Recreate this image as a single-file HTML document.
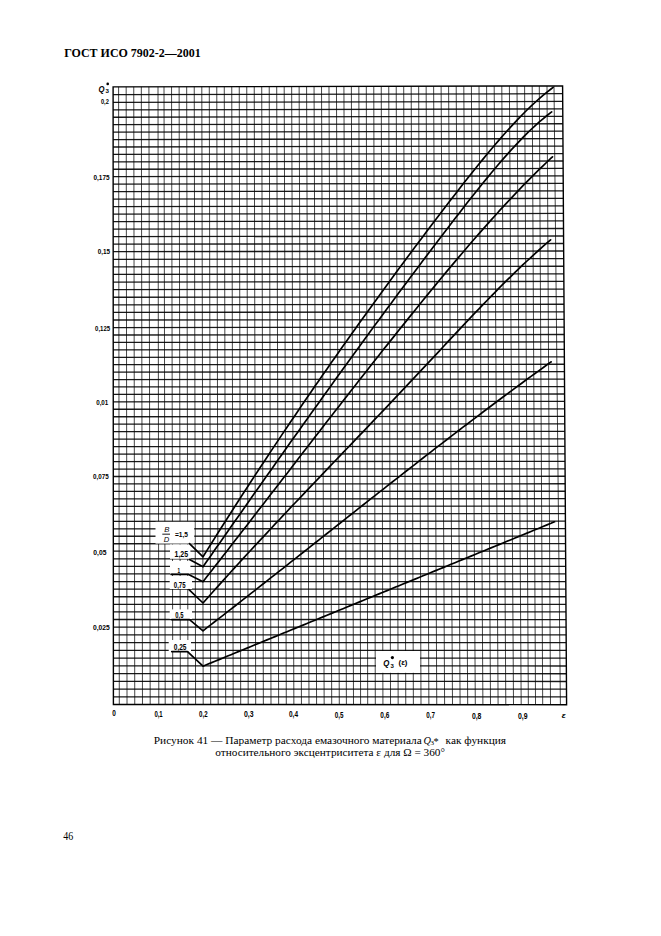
<!DOCTYPE html>
<html><head><meta charset="utf-8"><style>
html,body{margin:0;padding:0;background:#fff;width:661px;height:936px;overflow:hidden}
svg{position:absolute;left:0;top:0;display:block}
</style></head><body>
<svg width="661" height="936" viewBox="0 0 661 936">
<path d="M118.60 86.89L119.30 704.50M126.17 86.87L127.02 704.51M133.75 86.85L134.75 704.51M141.32 86.84L142.47 704.51M148.90 86.82L150.20 704.52M158.00 86.80L158.80 704.52M164.00 86.79L165.20 704.52M171.56 86.77L172.80 704.53M179.12 86.75L180.40 704.53M186.68 86.74L188.00 704.53M194.24 86.72L195.60 704.54M201.80 86.70L203.20 704.54M209.29 86.69L210.70 704.54M216.78 86.67L218.20 704.55M224.27 86.65L225.70 704.55M231.76 86.64L233.20 704.55M239.25 86.62L240.70 704.56M246.75 86.60L248.20 704.56M254.24 86.59L255.70 704.56M261.73 86.57L263.35 704.57M269.22 86.55L271.00 704.57M276.71 86.54L278.65 704.57M284.20 86.52L286.30 704.58M291.66 86.50L293.87 704.58M299.13 86.49L301.44 704.58M306.59 86.47L309.01 704.59M314.05 86.46L316.59 704.59M321.52 86.44L324.16 704.59M328.98 86.42L331.73 704.60M336.45 86.41L339.30 704.60M343.91 86.39L346.40 704.60M351.37 86.37L353.50 704.61M358.84 86.36L360.60 704.61M366.30 86.34L367.70 704.61M373.78 86.32L375.31 704.62M381.26 86.31L382.93 704.62M388.75 86.29L390.54 704.62M396.23 86.27L398.16 704.63M403.71 86.26L405.77 704.63M411.19 86.24L413.39 704.63M418.67 86.22L421.00 704.64M426.15 86.21L428.88 704.64M433.64 86.19L436.75 704.64M441.12 86.17L444.62 704.65M448.60 86.16L452.50 704.65M456.20 86.14L460.10 704.65M463.80 86.12L467.70 704.66M471.40 86.11L475.30 704.66M479.00 86.09L482.90 704.66M486.60 86.07L490.50 704.67M494.20 86.06L498.10 704.67M501.80 86.04L505.80 704.67M509.40 86.02L513.50 704.68M517.00 86.01L521.20 704.68M524.60 85.99L528.37 704.68M532.20 85.97L535.53 704.69M539.30 85.96L542.70 704.69M547.00 85.94L550.50 704.69M554.00 85.92L560.40 704.70" stroke="#000" stroke-width="1.0" fill="none" stroke-opacity="0.72"/>
<path d="M113.10 94.65L562.65 93.67M113.11 102.40L562.70 101.43M113.11 109.83L562.75 108.88M113.11 117.26L562.80 116.32M113.12 124.69L562.84 123.77M113.12 132.12L562.89 131.21M113.13 139.55L562.94 138.66M113.13 146.98L562.99 146.10M113.13 154.41L563.04 153.55M113.14 161.84L563.09 160.99M113.14 169.27L563.14 168.43M113.14 176.70L563.19 175.88M113.15 184.20L563.23 183.39M113.15 191.70L563.28 190.91M113.15 199.20L563.33 198.42M113.16 206.70L563.38 205.94M113.16 214.20L563.43 213.45M113.17 221.70L563.48 220.97M113.17 229.20L563.53 228.48M113.17 236.70L563.58 235.99M113.18 244.20L563.62 243.51M113.18 251.70L563.67 251.02M113.18 259.29L563.72 258.63M113.19 266.88L563.77 266.23M113.19 274.47L563.82 273.84M113.20 282.06L563.87 281.44M113.20 289.65L563.92 289.05M113.20 297.24L563.97 296.65M113.21 304.83L564.01 304.26M113.21 312.42L564.06 311.86M113.21 320.01L564.11 319.46M113.22 327.60L564.16 327.07M113.22 335.02L564.21 334.50M113.22 342.44L564.26 341.94M113.23 349.86L564.31 349.37M113.23 357.28L564.36 356.81M113.24 364.70L564.40 364.24M113.24 372.12L564.45 371.68M113.24 379.54L564.50 379.11M113.25 386.96L564.55 386.55M113.25 394.38L564.60 393.98M113.25 401.80L564.65 401.41M113.26 409.27L564.70 408.90M113.26 416.74L564.75 416.38M113.26 424.21L564.80 423.87M113.27 431.68L564.84 431.35M113.27 439.15L564.89 438.84M113.28 446.62L564.94 446.32M113.28 454.09L564.99 453.81M113.28 461.56L565.04 461.29M113.29 469.03L565.09 468.78M113.29 476.50L565.14 476.26M113.29 483.97L565.19 483.75M113.30 491.44L565.23 491.23M113.30 498.91L565.28 498.71M113.30 506.38L565.33 506.20M113.31 513.85L565.38 513.68M113.31 521.32L565.43 521.17M113.32 528.79L565.48 528.65M113.32 536.26L565.53 536.14M113.32 543.73L565.58 543.62M113.33 551.20L565.62 551.11M113.33 558.79L565.67 558.71M113.33 566.38L565.72 566.32M113.34 573.97L565.77 573.92M113.34 581.56L565.82 581.53M113.35 589.15L565.87 589.13M113.35 596.74L565.92 596.74M113.35 604.33L565.97 604.34M113.36 611.92L566.01 611.94M113.36 619.51L566.06 619.55M113.36 627.10L566.11 627.15M113.37 634.85L566.16 634.92M113.37 642.60L566.21 642.68M113.37 650.35L566.26 650.45M113.38 658.10L566.31 658.21M113.38 665.85L566.36 665.98M113.39 673.60L566.40 673.74M113.39 681.33L566.45 681.48M113.39 689.05L566.50 689.22M113.40 696.78L566.55 696.96" stroke="#000" stroke-width="1.3" fill="none" stroke-opacity="0.9"/>
<path d="M113.10 86.90L562.60 85.91L566.60 704.70L113.40 704.50Z" stroke="#000" stroke-width="1.4" fill="none"/>
<rect x="155.5" y="521.8" width="38.70" height="21.80" fill="#fff"/>
<rect x="170" y="544.5" width="20.40" height="14.30" fill="#fff"/>
<rect x="170" y="561" width="20.40" height="12.60" fill="#fff"/>
<rect x="169.7" y="576" width="22.30" height="13.00" fill="#fff"/>
<rect x="169.7" y="609.4" width="22.30" height="9.60" fill="#fff"/>
<rect x="168.7" y="640" width="22.30" height="11.00" fill="#fff"/>
<rect x="376" y="651" width="44.00" height="21.80" fill="#fff"/>
<path d="M189.5 543.6L203.0 556.8L207.0 550.4L211.0 544.0L215.0 537.6L219.0 531.3L223.0 525.0L227.0 518.7L231.0 512.5L235.0 506.2L239.0 500.0L243.0 493.8L247.0 487.7L251.0 481.5L255.0 475.4L259.0 469.3L263.0 463.2L267.0 457.2L271.0 451.1L275.0 445.1L279.0 439.1L283.0 433.1L287.0 427.2L291.0 421.3L295.0 415.4L299.0 409.5L303.0 403.6L307.0 397.8L311.0 391.9L315.0 386.1L319.0 380.4L323.0 374.6L327.0 368.9L331.0 363.1L335.0 357.4L339.0 351.7L343.0 346.1L347.0 340.4L351.0 334.8L355.0 329.2L359.0 323.6L363.0 318.0L367.0 312.4L371.0 306.9L375.0 301.4L379.0 295.9L383.0 290.4L387.0 284.9L391.0 279.5L395.0 274.0L399.0 268.6L403.0 263.2L407.0 257.8L411.0 252.4L415.0 247.1L419.0 241.8L423.0 236.4L427.0 231.1L431.0 225.8L435.0 220.6L439.0 215.3L443.0 210.0L447.0 204.8L451.0 199.6L455.0 194.4L459.0 189.2L463.0 184.1L467.0 179.0L471.0 174.0L475.0 169.0L479.0 164.0L483.0 159.1L487.0 154.2L491.0 149.5L495.0 144.8L499.0 140.1L503.0 135.5L507.0 131.0L511.0 126.6L515.0 122.3L519.0 118.1L523.0 114.0L527.0 110.0L531.0 106.2L535.0 102.5L539.0 98.9L543.0 95.4L547.0 92.1L551.0 89.0L553.1 87.4M189.5 559.5L203.0 566.8L207.0 561.1L211.0 555.4L215.0 549.6L219.0 543.9L223.0 538.2L227.0 532.5L231.0 526.8L235.0 521.1L239.0 515.4L243.0 509.7L247.0 504.0L251.0 498.3L255.0 492.6L259.0 486.9L263.0 481.2L267.0 475.6L271.0 469.9L275.0 464.2L279.0 458.6L283.0 452.9L287.0 447.3L291.0 441.6L295.0 436.0L299.0 430.4L303.0 424.8L307.0 419.2L311.0 413.6L315.0 408.0L319.0 402.4L323.0 396.8L327.0 391.2L331.0 385.7L335.0 380.1L339.0 374.6L343.0 369.0L347.0 363.5L351.0 358.0L355.0 352.5L359.0 347.0L363.0 341.5L367.0 336.0L371.0 330.6L375.0 325.1L379.0 319.7L383.0 314.2L387.0 308.8L391.0 303.4L395.0 298.0L399.0 292.6L403.0 287.2L407.0 281.9L411.0 276.5L415.0 271.2L419.0 265.9L423.0 260.6L427.0 255.3L431.0 250.0L435.0 244.7L439.0 239.5L443.0 234.2L447.0 229.0L451.0 223.8L455.0 218.6L459.0 213.4L463.0 208.2L467.0 203.1L471.0 198.0L475.0 193.0L479.0 188.0L483.0 183.0L487.0 178.1L491.0 173.2L495.0 168.5L499.0 163.8L503.0 159.1L507.0 154.6L511.0 150.1L515.0 145.8L519.0 141.6L523.0 137.4L527.0 133.4L531.0 129.5L535.0 125.8L539.0 122.2L543.0 118.8L547.0 115.5L551.0 112.4L551.7 111.9M171.3 574.4L188.6 574.4L203.0 581.7L207.0 576.6L211.0 571.5L215.0 566.3L219.0 561.2L223.0 556.1L227.0 550.9L231.0 545.8L235.0 540.6L239.0 535.5L243.0 530.3L247.0 525.2L251.0 520.0L255.0 514.8L259.0 509.6L263.0 504.5L267.0 499.3L271.0 494.1L275.0 488.9L279.0 483.7L283.0 478.6L287.0 473.4L291.0 468.2L295.0 463.0L299.0 457.8L303.0 452.6L307.0 447.5L311.0 442.3L315.0 437.1L319.0 432.0L323.0 426.8L327.0 421.6L331.0 416.5L335.0 411.3L339.0 406.2L343.0 401.1L347.0 395.9L351.0 390.8L355.0 385.7L359.0 380.6L363.0 375.5L367.0 370.4L371.0 365.3L375.0 360.2L379.0 355.2L383.0 350.1L387.0 345.1L391.0 340.1L395.0 335.1L399.0 330.0L403.0 325.1L407.0 320.1L411.0 315.1L415.0 310.2L419.0 305.2L423.0 300.3L427.0 295.4L431.0 290.5L435.0 285.6L439.0 280.8L443.0 276.0L447.0 271.1L451.0 266.4L455.0 261.6L459.0 256.9L463.0 252.2L467.0 247.5L471.0 242.8L475.0 238.2L479.0 233.6L483.0 229.1L487.0 224.6L491.0 220.1L495.0 215.7L499.0 211.2L503.0 206.9L507.0 202.6L511.0 198.3L515.0 194.1L519.0 189.9L523.0 185.7L527.0 181.7L531.0 177.6L535.0 173.6L539.0 169.7L543.0 165.8L547.0 162.0L551.0 158.2L552.5 156.8M189.0 589.6L203.0 603.0L207.0 598.5L211.0 594.0L215.0 589.5L219.0 585.1L223.0 580.6L227.0 576.2L231.0 571.8L235.0 567.4L239.0 563.0L243.0 558.7L247.0 554.3L251.0 550.0L255.0 545.7L259.0 541.4L263.0 537.1L267.0 532.8L271.0 528.5L275.0 524.2L279.0 520.0L283.0 515.7L287.0 511.5L291.0 507.2L295.0 503.0L299.0 498.8L303.0 494.6L307.0 490.4L311.0 486.2L315.0 482.0L319.0 477.8L323.0 473.6L327.0 469.4L331.0 465.2L335.0 461.0L339.0 456.8L343.0 452.7L347.0 448.5L351.0 444.3L355.0 440.1L359.0 435.9L363.0 431.8L367.0 427.6L371.0 423.4L375.0 419.2L379.0 415.0L383.0 410.8L387.0 406.6L391.0 402.4L395.0 398.1L399.0 393.9L403.0 389.7L407.0 385.4L411.0 381.2L415.0 376.9L419.0 372.7L423.0 368.4L427.0 364.1L431.0 359.9L435.0 355.6L439.0 351.3L443.0 347.0L447.0 342.7L451.0 338.4L455.0 334.1L459.0 329.9L463.0 325.6L467.0 321.4L471.0 317.1L475.0 312.9L479.0 308.8L483.0 304.6L487.0 300.5L491.0 296.4L495.0 292.3L499.0 288.2L503.0 284.2L507.0 280.2L511.0 276.3L515.0 272.4L519.0 268.6L523.0 264.7L527.0 261.0L531.0 257.3L535.0 253.6L539.0 250.0L543.0 246.4L547.0 242.9L550.6 239.8M171.8 619.6L189.5 619.6L203.0 630.8L207.0 627.7L211.0 624.6L215.0 621.5L219.0 618.4L223.0 615.3L227.0 612.2L231.0 609.1L235.0 606.0L239.0 602.8L243.0 599.7L247.0 596.6L251.0 593.4L255.0 590.3L259.0 587.2L263.0 584.0L267.0 580.9L271.0 577.7L275.0 574.6L279.0 571.4L283.0 568.3L287.0 565.1L291.0 561.9L295.0 558.8L299.0 555.6L303.0 552.5L307.0 549.3L311.0 546.1L315.0 543.0L319.0 539.8L323.0 536.6L327.0 533.5L331.0 530.3L335.0 527.2L339.0 524.0L343.0 520.8L347.0 517.7L351.0 514.5L355.0 511.4L359.0 508.2L363.0 505.0L367.0 501.9L371.0 498.7L375.0 495.6L379.0 492.4L383.0 489.3L387.0 486.2L391.0 483.0L395.0 479.9L399.0 476.8L403.0 473.6L407.0 470.5L411.0 467.4L415.0 464.3L419.0 461.1L423.0 458.0L427.0 454.9L431.0 451.8L435.0 448.7L439.0 445.6L443.0 442.6L447.0 439.5L451.0 436.4L455.0 433.3L459.0 430.3L463.0 427.2L467.0 424.2L471.0 421.1L475.0 418.1L479.0 415.1L483.0 412.0L487.0 409.0L491.0 406.0L495.0 403.0L499.0 400.0L503.0 397.0L507.0 394.1L511.0 391.1L515.0 388.1L519.0 385.2L523.0 382.2L527.0 379.3L531.0 376.4L535.0 373.5L539.0 370.6L543.0 367.7L547.0 364.8L551.0 361.9L551.2 361.8M171.8 651.6L187.5 651.6L203.0 666.2L207.0 664.5L211.0 662.9L215.0 661.3L219.0 659.6L223.0 658.0L227.0 656.3L231.0 654.7L235.0 653.0L239.0 651.4L243.0 649.8L247.0 648.1L251.0 646.5L255.0 644.8L259.0 643.2L263.0 641.5L267.0 639.9L271.0 638.2L275.0 636.6L279.0 635.0L283.0 633.3L287.0 631.7L291.0 630.0L295.0 628.4L299.0 626.7L303.0 625.1L307.0 623.5L311.0 621.8L315.0 620.2L319.0 618.5L323.0 616.9L327.0 615.2L331.0 613.6L335.0 612.0L339.0 610.3L343.0 608.7L347.0 607.0L351.0 605.4L355.0 603.7L359.0 602.1L363.0 600.5L367.0 598.8L371.0 597.2L375.0 595.5L379.0 593.9L383.0 592.2L387.0 590.6L391.0 589.0L395.0 587.3L399.0 585.7L403.0 584.0L407.0 582.4L411.0 580.7L415.0 579.1L419.0 577.5L423.0 575.8L427.0 574.2L431.0 572.5L435.0 570.9L439.0 569.2L443.0 567.6L447.0 566.0L451.0 564.3L455.0 562.7L459.0 561.0L463.0 559.4L467.0 557.7L471.0 556.1L475.0 554.5L479.0 552.8L483.0 551.2L487.0 549.5L491.0 547.9L495.0 546.2L499.0 544.6L503.0 543.0L507.0 541.3L511.0 539.7L515.0 538.0L519.0 536.4L523.0 534.8L527.0 533.1L531.0 531.5L535.0 529.8L539.0 528.2L543.0 526.5L547.0 524.9L551.0 523.3L554.5 521.8" stroke="#000" stroke-width="1.7" fill="none" stroke-linejoin="round" stroke-linecap="round"/>
<g font-family='"Liberation Sans", sans-serif' fill="#000"><text x="100.9" y="104.3" font-size="8" text-anchor="start" font-weight="bold" font-style="normal" textLength="7.9" lengthAdjust="spacingAndGlyphs">0,2</text><text x="93.5" y="179.5" font-size="8" text-anchor="start" font-weight="bold" font-style="normal" textLength="16.0" lengthAdjust="spacingAndGlyphs">0,175</text><text x="97.8" y="254.4" font-size="8" text-anchor="start" font-weight="bold" font-style="normal" textLength="12.3" lengthAdjust="spacingAndGlyphs">0,15</text><text x="95.1" y="330.8" font-size="8" text-anchor="start" font-weight="bold" font-style="normal" textLength="15.0" lengthAdjust="spacingAndGlyphs">0,125</text><text x="96.2" y="405" font-size="8" text-anchor="start" font-weight="bold" font-style="normal" textLength="12.1" lengthAdjust="spacingAndGlyphs">0,01</text><text x="93" y="479.2" font-size="8" text-anchor="start" font-weight="bold" font-style="normal" textLength="15.7" lengthAdjust="spacingAndGlyphs">0,075</text><text x="93.3" y="555" font-size="8" text-anchor="start" font-weight="bold" font-style="normal" textLength="13.1" lengthAdjust="spacingAndGlyphs">0,05</text><text x="93" y="629.7" font-size="8" text-anchor="start" font-weight="bold" font-style="normal" textLength="16.8" lengthAdjust="spacingAndGlyphs">0,025</text><text x="112.2" y="716.31" font-size="9" text-anchor="start" font-weight="bold" font-style="normal" textLength="3.6" lengthAdjust="spacingAndGlyphs">0</text><text x="154.4" y="716.60" font-size="9" text-anchor="start" font-weight="bold" font-style="normal" textLength="8.3" lengthAdjust="spacingAndGlyphs">0,1</text><text x="199.1" y="716.89" font-size="9" text-anchor="start" font-weight="bold" font-style="normal" textLength="8.5" lengthAdjust="spacingAndGlyphs">0,2</text><text x="244.0" y="717.19" font-size="9" text-anchor="start" font-weight="bold" font-style="normal" textLength="9.6" lengthAdjust="spacingAndGlyphs">0,3</text><text x="289.0" y="717.49" font-size="9" text-anchor="start" font-weight="bold" font-style="normal" textLength="9" lengthAdjust="spacingAndGlyphs">0,4</text><text x="334.8" y="717.79" font-size="9" text-anchor="start" font-weight="bold" font-style="normal" textLength="8.7" lengthAdjust="spacingAndGlyphs">0,5</text><text x="380.3" y="718.09" font-size="9" text-anchor="start" font-weight="bold" font-style="normal" textLength="9" lengthAdjust="spacingAndGlyphs">0,6</text><text x="426.3" y="718.39" font-size="9" text-anchor="start" font-weight="bold" font-style="normal" textLength="8.7" lengthAdjust="spacingAndGlyphs">0,7</text><text x="471.9" y="718.69" font-size="9" text-anchor="start" font-weight="bold" font-style="normal" textLength="9.5" lengthAdjust="spacingAndGlyphs">0,8</text><text x="518.0" y="719.00" font-size="9" text-anchor="start" font-weight="bold" font-style="normal" textLength="9.6" lengthAdjust="spacingAndGlyphs">0,9</text></g>
<text x="561.8" y="718.2" font-family='"Liberation Sans", sans-serif' font-size="7.6" font-style="italic" font-weight="bold" textLength="4" lengthAdjust="spacingAndGlyphs">ε</text>
<text x="98.4" y="91.7" font-family='"Liberation Sans", sans-serif' font-size="8.3" font-weight="bold" font-style="italic" textLength="6" lengthAdjust="spacingAndGlyphs">Q</text>
<text x="105.6" y="93.4" font-family='"Liberation Sans", sans-serif' font-size="6.2" font-weight="bold">3</text>
<circle cx="107.7" cy="83.9" r="1.3" fill="#000"/>
<text x="164.3" y="532" font-family='"Liberation Sans", sans-serif' font-size="7.5" font-style="italic" textLength="5.2" lengthAdjust="spacingAndGlyphs">B</text>
<rect x="162.3" y="533.7" width="7.7" height="0.9" fill="#000"/>
<text x="163.8" y="541.8" font-family='"Liberation Sans", sans-serif' font-size="7.5" font-style="italic" textLength="5.5" lengthAdjust="spacingAndGlyphs">D</text>
<text x="175" y="537.3" font-family='"Liberation Sans", sans-serif' font-size="7" font-weight="bold" textLength="13" lengthAdjust="spacingAndGlyphs">=1,5</text>
<text x="174.5" y="557.3" font-family='"Liberation Sans", sans-serif' font-size="8.5" font-weight="bold" textLength="13.6" lengthAdjust="spacingAndGlyphs">1,25</text>
<text x="177.4" y="573" font-family='"Liberation Sans", sans-serif' font-size="8" font-weight="bold" textLength="2.6" lengthAdjust="spacingAndGlyphs">1</text>
<text x="173.8" y="588.2" font-family='"Liberation Sans", sans-serif' font-size="8.5" font-weight="bold" textLength="11.7" lengthAdjust="spacingAndGlyphs">0,75</text>
<text x="175.3" y="618.2" font-family='"Liberation Sans", sans-serif' font-size="8.5" font-weight="bold" textLength="8.1" lengthAdjust="spacingAndGlyphs">0,5</text>
<text x="173.8" y="650" font-family='"Liberation Sans", sans-serif' font-size="8.5" font-weight="bold" textLength="12.7" lengthAdjust="spacingAndGlyphs">0,25</text>
<text x="383.3" y="665.8" font-family='"Liberation Sans", sans-serif' font-size="8.3" font-weight="bold" font-style="italic" textLength="6.1" lengthAdjust="spacingAndGlyphs">Q</text>
<text x="390.5" y="667.8" font-family='"Liberation Sans", sans-serif' font-size="6" font-weight="bold">3</text>
<circle cx="392.4" cy="657.6" r="1.6" fill="#000"/>
<text x="398.5" y="665.4" font-family='"Liberation Sans", sans-serif' font-size="7" font-weight="bold" textLength="9" lengthAdjust="spacingAndGlyphs">(ε)</text>
<text x="64.2" y="56.8" font-family='"Liberation Serif", serif' font-size="11.6" font-weight="bold" textLength="136.5" lengthAdjust="spacingAndGlyphs">ГОСТ ИСО 7902-2—2001</text>
<text x="153.8" y="743.9" font-family='"Liberation Serif", serif' font-size="10.3" textLength="268" lengthAdjust="spacingAndGlyphs">Рисунок 41 — Параметр расхода емазочного материала</text>
<text x="423.6" y="743.9" font-family='"Liberation Serif", serif' font-size="10.3" font-style="italic">Q</text>
<text x="430.4" y="745.2" font-family='"Liberation Serif", serif' font-size="7">3</text>
<text x="433.6" y="744.6" font-family='"Liberation Serif", serif' font-size="10.3">*</text>
<text x="445.6" y="743.9" font-family='"Liberation Serif", serif' font-size="10.3" textLength="60.5" lengthAdjust="spacingAndGlyphs">как функция</text>
<text x="215.3" y="755.9" font-family='"Liberation Serif", serif' font-size="10.3" textLength="229.7" lengthAdjust="spacingAndGlyphs">относительного эксцентриситета ε для Ω = 360°</text>
<text x="63.2" y="840" font-family='"Liberation Serif", serif' font-size="11.5" textLength="10" lengthAdjust="spacingAndGlyphs">46</text>
</svg>
</body></html>
